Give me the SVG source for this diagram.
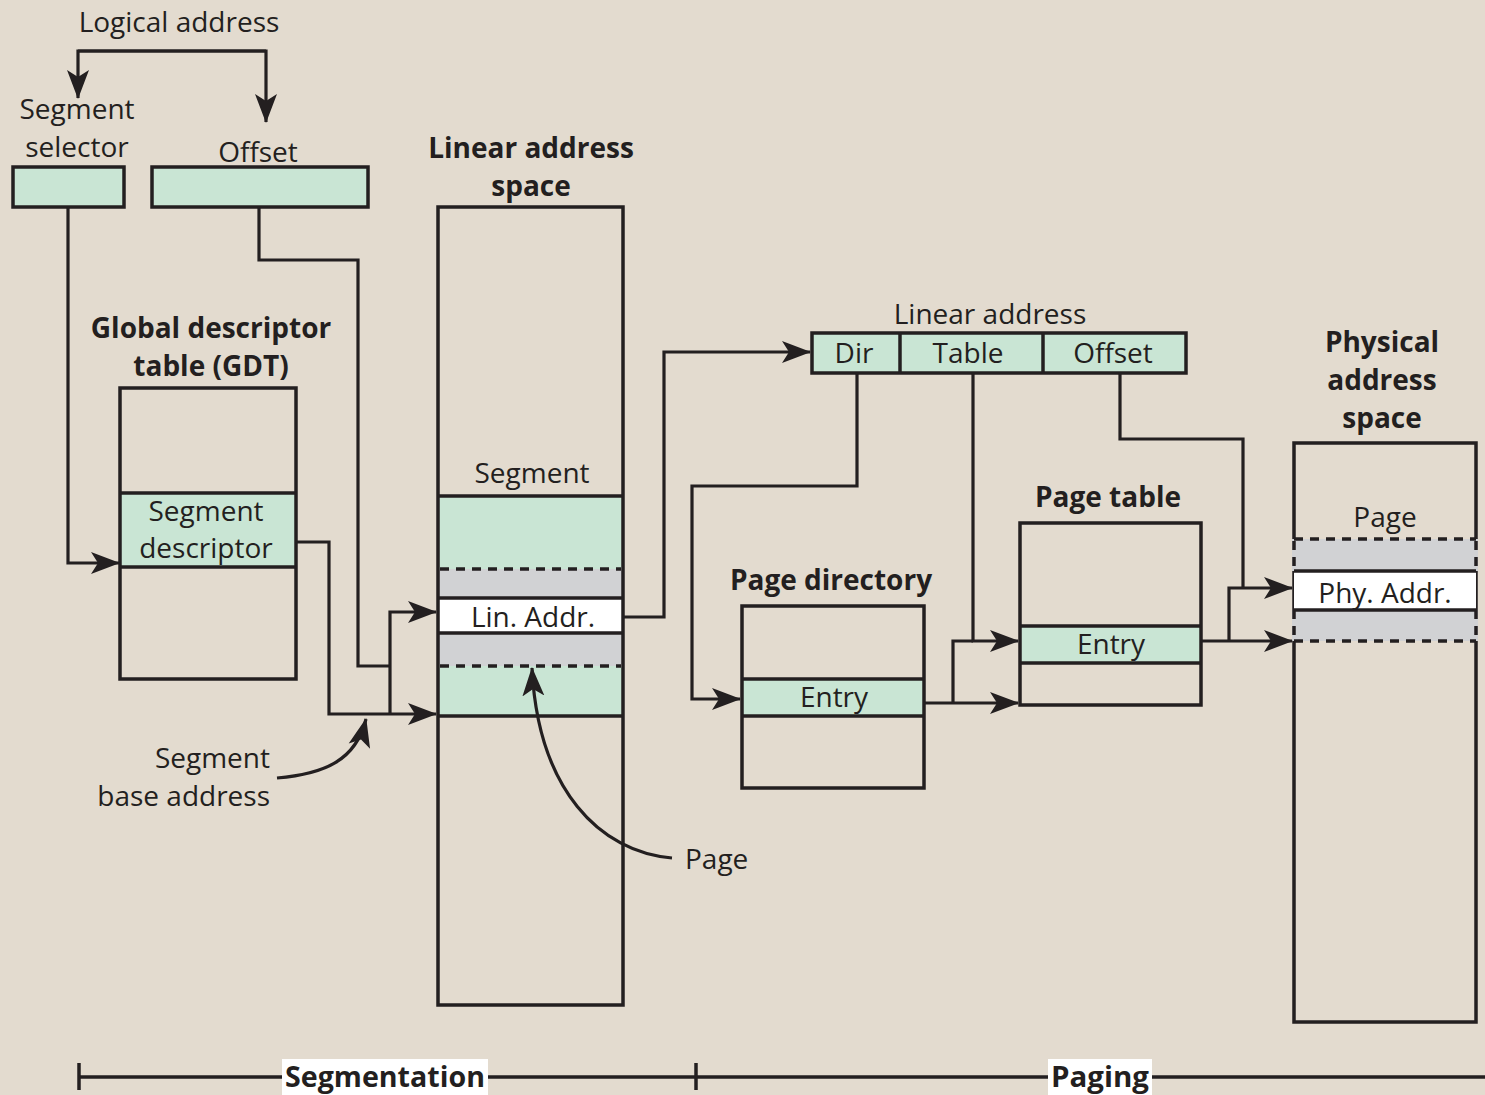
<svg xmlns="http://www.w3.org/2000/svg" width="1485" height="1095" viewBox="0 0 1485 1095">
<defs>
<marker id="ah" markerUnits="userSpaceOnUse" markerWidth="30" markerHeight="24" viewBox="0 0 30 24" refX="28" refY="12" orient="auto">
<path d="M0,1 L29,12 L0,23 L7,12 Z" fill="#231f20"/>
</marker>
<style>
.t{font-family:"Open Sans","Noto Sans","Liberation Sans",sans-serif;font-size:28px;fill:#231f20}
.b{font-family:"Open Sans","Noto Sans","Liberation Sans",sans-serif;font-size:28px;font-weight:700;fill:#231f20}
.box{fill:none;stroke:#231f20;stroke-width:3.5}
.g{fill:#c9e5d4}
.gr{fill:#d1d2d4}
.w{fill:#ffffff}
.ln{stroke:#231f20;stroke-width:3.5}
.ds{stroke:#231f20;stroke-width:3.5;stroke-dasharray:9,7}
.c{fill:none;stroke:#231f20;stroke-width:3.2}
</style>
</defs>
<rect width="1485" height="1095" fill="#e3dbcf"/>

<g id="logical">
<text class="t" x="179" y="32" text-anchor="middle">Logical address</text>
<text class="t" x="77" y="119" text-anchor="middle">Segment</text>
<text class="t" x="77" y="157" text-anchor="middle">selector</text>
<text class="t" x="258" y="162" text-anchor="middle">Offset</text>
</g>
<g id="seg-selector"><rect x="13" y="167" width="111" height="40" class="g"/><rect x="13" y="167" width="111" height="40" class="box"/></g>
<g id="offset"><rect x="152" y="167" width="216" height="40" class="g"/><rect x="152" y="167" width="216" height="40" class="box"/></g>

<g id="gdt">
<text class="b" x="211" y="338" text-anchor="middle">Global descriptor</text>
<text class="b" x="211" y="376" text-anchor="middle">table (GDT)</text>
<rect x="120" y="493" width="176" height="74" class="g"/>
<rect x="120" y="388" width="176" height="291" class="box"/>
<line x1="120" y1="493" x2="296" y2="493" class="ln"/>
<line x1="120" y1="567" x2="296" y2="567" class="ln"/>
<text class="t" x="206" y="521" text-anchor="middle">Segment</text>
<text class="t" x="206" y="558" text-anchor="middle">descriptor</text>
</g>

<g id="linear-space">
<text class="b" x="531" y="158" text-anchor="middle">Linear address</text>
<text class="b" x="531" y="196" text-anchor="middle">space</text>
<text class="t" x="532" y="483" text-anchor="middle">Segment</text>
<rect x="438" y="496" width="185" height="220" class="g"/>
<rect x="438" y="569" width="185" height="29" class="gr"/>
<rect x="438" y="598" width="185" height="35" class="w"/>
<rect x="438" y="633" width="185" height="33" class="gr"/>
<rect x="438" y="207" width="185" height="798" class="box"/>
<line x1="438" y1="496" x2="623" y2="496" class="ln"/>
<line x1="440" y1="569" x2="621" y2="569" class="ds"/>
<line x1="438" y1="598" x2="623" y2="598" class="ln"/>
<line x1="438" y1="633" x2="623" y2="633" class="ln"/>
<line x1="440" y1="666" x2="621" y2="666" class="ds"/>
<line x1="438" y1="716" x2="623" y2="716" class="ln"/>
<text class="t" x="533" y="627" text-anchor="middle">Lin. Addr.</text>
</g>

<g id="linear-address">
<text class="t" x="990" y="324" text-anchor="middle">Linear address</text>
<rect x="812" y="333" width="374" height="40" class="g"/>
<rect x="812" y="333" width="374" height="40" class="box"/>
<line x1="900" y1="333" x2="900" y2="373" class="ln"/>
<line x1="1043" y1="333" x2="1043" y2="373" class="ln"/>
<text class="t" x="854" y="363" text-anchor="middle">Dir</text>
<text class="t" x="968" y="363" text-anchor="middle">Table</text>
<text class="t" x="1113" y="363" text-anchor="middle">Offset</text>
</g>

<g id="page-directory">
<text class="b" x="831" y="590" text-anchor="middle">Page directory</text>
<rect x="742" y="679" width="182" height="37" class="g"/>
<rect x="742" y="606" width="182" height="182" class="box"/>
<line x1="742" y1="679" x2="924" y2="679" class="ln"/>
<line x1="742" y1="716" x2="924" y2="716" class="ln"/>
<text class="t" x="834" y="707" text-anchor="middle">Entry</text>
</g>

<g id="page-table">
<text class="b" x="1108" y="507" text-anchor="middle">Page table</text>
<rect x="1020" y="626" width="181" height="37" class="g"/>
<rect x="1020" y="523" width="181" height="182" class="box"/>
<line x1="1020" y1="626" x2="1201" y2="626" class="ln"/>
<line x1="1020" y1="663" x2="1201" y2="663" class="ln"/>
<text class="t" x="1111" y="654" text-anchor="middle">Entry</text>
</g>

<g id="physical-space">
<text class="b" x="1382" y="352" text-anchor="middle">Physical</text>
<text class="b" x="1382" y="390" text-anchor="middle">address</text>
<text class="b" x="1382" y="428" text-anchor="middle">space</text>
<text class="t" x="1385" y="527" text-anchor="middle">Page</text>
<rect x="1294" y="443" width="182" height="579" class="box"/>
<rect x="1292" y="539" width="186" height="32" class="gr"/>
<rect x="1294" y="571" width="182" height="39" class="w"/>
<rect x="1292" y="610" width="186" height="31" class="gr"/>
<line x1="1294" y1="539" x2="1476" y2="539" class="ds"/>
<line x1="1294" y1="641" x2="1476" y2="641" class="ds"/>
<line x1="1294" y1="541" x2="1294" y2="571" class="ds"/>
<line x1="1476" y1="541" x2="1476" y2="571" class="ds"/>
<line x1="1294" y1="610" x2="1294" y2="641" class="ds"/>
<line x1="1476" y1="610" x2="1476" y2="641" class="ds"/>
<line x1="1294" y1="571" x2="1476" y2="571" class="ln"/>
<line x1="1294" y1="610" x2="1476" y2="610" class="ln"/>
<text class="t" x="1385" y="603" text-anchor="middle">Phy. Addr.</text>
</g>

<g id="labels">
<text class="t" x="270" y="768" text-anchor="end">Segment</text>
<text class="t" x="270" y="806" text-anchor="end">base address</text>
<text class="t" x="685" y="869">Page</text>
</g>

<g id="connectors">
<path class="c" d="M78,51 H266 V122" marker-end="url(#ah)"/>
<path class="c" d="M266,51 H78 V98" marker-end="url(#ah)"/>
<path class="c" d="M68,207 V563 H119" marker-end="url(#ah)"/>
<path class="c" d="M259,207 V260 H358 V666 H390"/>
<path class="c" d="M296,542 H329 V714 H436" marker-end="url(#ah)"/>
<path class="c" d="M390,714 V612 H436" marker-end="url(#ah)"/>
<path class="c" d="M623,617 H664 V352 H810" marker-end="url(#ah)"/>
<path class="c" d="M857,373 V486 H692 V699 H740" marker-end="url(#ah)"/>
<path class="c" d="M973,373 V641 H1018" marker-end="url(#ah)"/>
<path class="c" d="M924,703 H1018" marker-end="url(#ah)"/>
<path class="c" d="M953,703 V641 H973"/>
<path class="c" d="M1120,373 V439 H1243 V588"/>
<path class="c" d="M1229,641 V588 H1292" marker-end="url(#ah)"/>
<path class="c" d="M1201,641 H1292" marker-end="url(#ah)"/>
<path class="c" d="M277,778 C325,774 356,760 366,719" marker-end="url(#ah)"/>
<path class="c" d="M672,858 C600,852 538,790 532,668" marker-end="url(#ah)"/>
</g>

<g id="phases">
<line x1="79" y1="1077" x2="1485" y2="1077" stroke="#231f20" stroke-width="3.5"/>
<line x1="79" y1="1063" x2="79" y2="1090" stroke="#231f20" stroke-width="3.5"/>
<line x1="696" y1="1063" x2="696" y2="1090" stroke="#231f20" stroke-width="3.5"/>
<rect x="282" y="1059" width="206" height="36" fill="#ffffff"/>
<rect x="1048" y="1059" width="104" height="36" fill="#ffffff"/>
<text class="b" x="385" y="1087" text-anchor="middle" font-size="29" textLength="200" lengthAdjust="spacingAndGlyphs">Segmentation</text>
<text class="b" x="1100" y="1087" text-anchor="middle" font-size="29" textLength="98" lengthAdjust="spacingAndGlyphs">Paging</text>
</g>
</svg>
